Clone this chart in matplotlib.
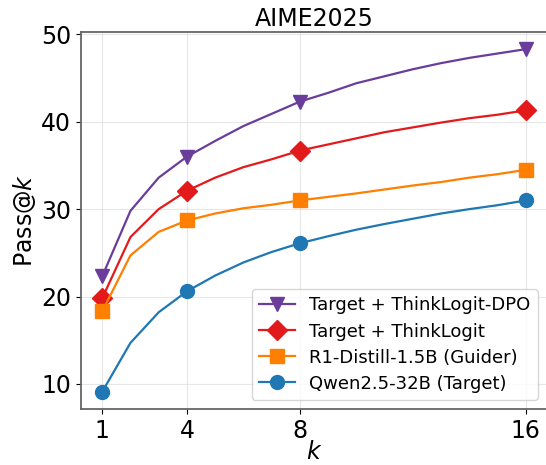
import matplotlib
matplotlib.use("Agg")
import matplotlib.pyplot as plt

k = list(range(1, 17))
dpo = [22.3, 29.8, 33.6, 36.0, 37.8, 39.5, 40.9, 42.3, 43.3, 44.4, 45.2, 46.0, 46.7, 47.3, 47.8, 48.3]
think = [19.8, 26.8, 30.0, 32.1, 33.6, 34.8, 35.7, 36.7, 37.4, 38.1, 38.8, 39.35, 39.9, 40.4, 40.8, 41.3]
guider = [18.3, 24.7, 27.4, 28.7, 29.5, 30.1, 30.5, 31.0, 31.4, 31.8, 32.25, 32.7, 33.1, 33.6, 34.0, 34.5]
target = [9.1, 14.7, 18.2, 20.6, 22.4, 23.9, 25.1, 26.1, 26.9, 27.65, 28.3, 28.9, 29.5, 30.0, 30.45, 31.0]
labels = ["Target + ThinkLogit-DPO", "Target + ThinkLogit", "R1-Distill-1.5B (Guider)", "Qwen2.5-32B (Target)"]
xticks = [1, 4, 8, 16]
marker_idx = [0, 3, 7, 15]

fig = plt.figure(figsize=(5.46, 4.65), dpi=100)
ax = fig.add_axes([81/546, 56/465, 466/546, 377/465])

series = [(dpo, "#6a3d9a", "v"), (think, "#e31a1c", "D"), (guider, "#ff7f00", "s"), (target, "#1f77b4", "o")]
for (vals, c, m), lab in zip(series, labels):
    ax.plot(k, vals, color=c, marker=m, markevery=marker_idx, markersize=10, linewidth=1.6, label=lab)

ax.set_xticks(xticks)
ax.set_xticklabels([str(t) for t in xticks])
ax.set_yticks([10, 20, 30, 40, 50])
ax.tick_params(labelsize=17)
ax.grid(True, color="#dddddd", linewidth=0.8, alpha=0.7)
ax.set_axisbelow(True)
for s in ax.spines.values():
    s.set_color("#666666")
    s.set_linewidth(1.3)
ax.set_title("AIME2025", fontsize=17, pad=4)
ax.set_xlabel("$k$", fontsize=17, labelpad=-2)
ax.set_ylabel("Pass@$k$", fontsize=17, labelpad=2)
ax.legend(loc="lower right", fontsize=13, framealpha=0.8, borderpad=0.4, labelspacing=0.45, handlelength=2.0)

fig.savefig("out.png", dpi=100)
